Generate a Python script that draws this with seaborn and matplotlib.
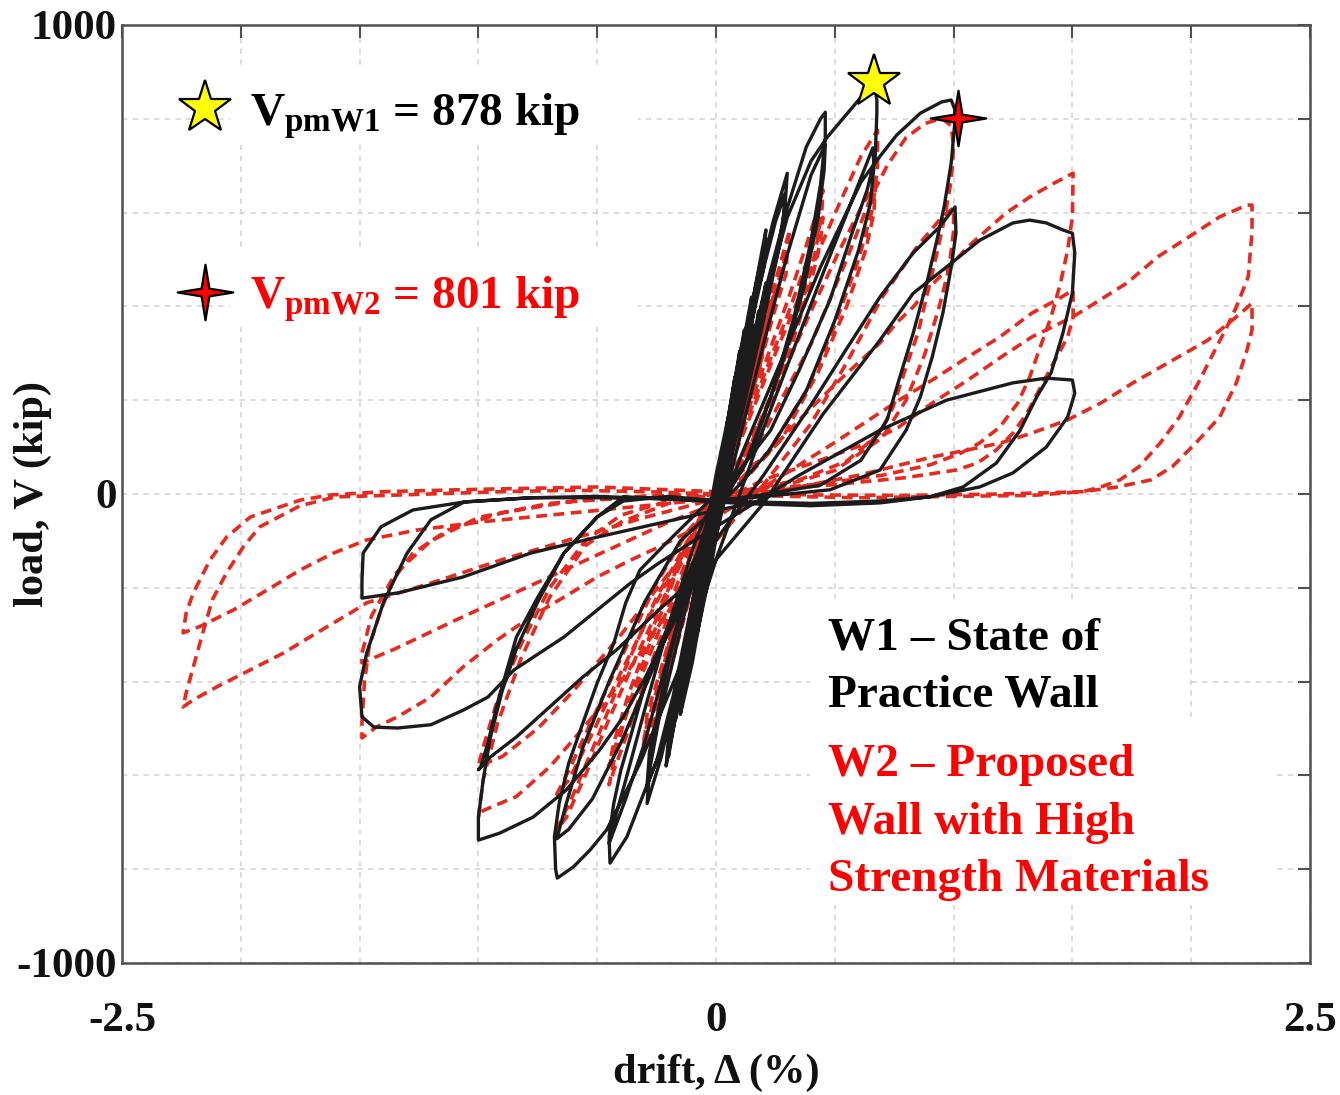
import numpy as np
import pandas as pd
import seaborn as sns
import matplotlib.pyplot as plt
from matplotlib.path import Path
from matplotlib.patches import Rectangle

# ---------------------------------------------------------------------------
# Load–drift hysteresis data, one list of (drift %, load kip) per cycle group
# ---------------------------------------------------------------------------

# W1 - state of practice wall
w1_elastic = [
    (0.00, 0), (0.03, 95), (0.05, 160), (0.045, 130), (0.00, 10), (-0.03, -95), (-0.05, -170), (-0.045, -135), (0.00, -15),
    (0.02, 60), (0.06, 190), (0.08, 250), (0.07, 215), (0.01, 30), (-0.04, -120), (-0.08, -260), (-0.07, -225), (-0.01, -40),
    (0.05, 150), (0.10, 300), (0.085, 245), (0.02, 50), (-0.05, -160), (-0.10, -320), (-0.085, -255), (-0.02, -50),
    (0.04, 110), (0.09, 270), (0.12, 350), (0.11, 310), (0.04, 100), (-0.03, -110), (-0.09, -290), (-0.12, -370), (-0.11, -330), (-0.04, -120),
    (0.06, 100), (0.12, 260), (0.16, 360), (0.15, 320), (0.08, 140), (0.02, -20), (-0.05, -200), (-0.10, -330), (-0.09, -290), (-0.02, -100),
    (0.05, 155), (0.10, 305), (0.09, 255), (0.02, 45), (-0.05, -165), (-0.10, -325), (-0.09, -260), (-0.02, -45),
    (0.08, 120), (0.14, 280), (0.18, 390), (0.17, 350), (0.10, 170), (0.03, -10), (-0.03, -180), (-0.08, -300), (-0.07, -260), (0.00, -60),
    (0.03, 60), (0.09, 250), (0.13, 360), (0.12, 320), (0.05, 120), (-0.02, -90), (-0.08, -270), (-0.13, -390), (-0.12, -350), (-0.05, -150),
    (-0.02, -30), (0.05, 150), (0.11, 320), (0.10, 280), (0.00, 40), (-0.07, -160), (-0.13, -330), (-0.12, -290), (-0.05, -100),
    (0.07, 200), (0.15, 410), (0.14, 360), (0.06, 140), (0.00, -20), (-0.07, -210), (-0.15, -440), (-0.14, -390), (-0.06, -160), (0.00, 20),
    (0.02, 30), (0.08, 220), (0.14, 380), (0.13, 340), (0.06, 150), (-0.01, -60), (-0.07, -240), (-0.14, -420), (-0.13, -380), (-0.06, -170),
    (0.09, 160), (0.16, 330), (0.21, 450), (0.20, 410), (0.12, 220), (0.04, 20), (-0.04, -190), (-0.10, -360), (-0.15, -470), (-0.14, -430), (-0.07, -240),
    (0.07, 200), (0.15, 420), (0.14, 365), (0.05, 120), (-0.05, -150), (-0.15, -450), (-0.14, -395), (-0.05, -140), (0.00, 10),
    (0.01, 10), (0.10, 260), (0.17, 450), (0.16, 400), (0.08, 190), (0.00, -30), (-0.08, -250), (-0.17, -480), (-0.16, -430), (-0.08, -210),
    (0.00, -20), (0.10, 240), (0.18, 470), (0.17, 420), (0.09, 200), (0.01, -10), (-0.09, -270), (-0.18, -500), (-0.17, -450), (-0.07, -180),
    (0.08, 220), (0.15, 400), (0.21, 563), (0.20, 500), (0.12, 310), (0.03, 60), (-0.05, -140), (-0.12, -330), (-0.20, -560), (-0.19, -500), (-0.10, -260), (-0.02, -40),
    (0.08, 210), (0.15, 390), (0.21, 545), (0.20, 480), (0.10, 250), (0.00, -10), (-0.10, -280), (-0.20, -550), (-0.19, -490), (-0.10, -250), (0.00, 0),
    (0.06, 170), (0.13, 350), (0.19, 500), (0.18, 450), (0.11, 280), (0.02, 30), (-0.07, -200), (-0.14, -390), (-0.21, -580), (-0.20, -520), (-0.12, -300), (-0.03, -60),
]
w1_cycles_030 = [
    (0.06, 150), (0.15, 390), (0.24, 580), (0.30, 684), (0.29, 610), (0.26, 520), (0.18, 340), (0.10, 170), (0.03, 20),
    (-0.05, -120), (-0.15, -380), (-0.23, -560), (-0.29, -660), (-0.28, -590), (-0.24, -480), (-0.15, -290), (-0.06, -110), (0.00, 0),
    (0.08, 180), (0.17, 420), (0.25, 580), (0.29, 640), (0.28, 560), (0.20, 370), (0.10, 150), (0.02, 0),
    (-0.08, -180), (-0.18, -430), (-0.25, -570), (-0.29, -620), (-0.28, -550), (-0.20, -360), (-0.10, -160), (0.00, 0),
]
w1_cycles_046 = [
    (0.10, 200), (0.20, 420), (0.30, 610), (0.38, 740), (0.44, 800), (0.46, 814), (0.46, 760), (0.44, 660), (0.40, 540), (0.33, 380), (0.24, 220), (0.12, 60), (0.00, -40),
    (-0.10, -150), (-0.20, -280), (-0.28, -375), (-0.32, -446), (-0.36, -518), (-0.40, -588), (-0.43, -659), (-0.45, -731), (-0.446, -787),
    (-0.375, -731), (-0.32, -659), (-0.265, -588), (-0.21, -518), (-0.15, -420), (-0.08, -260), (0.00, -90),
    (0.10, 120), (0.20, 320), (0.30, 510), (0.40, 680), (0.46, 745), (0.455, 690), (0.43, 590), (0.37, 440), (0.28, 280), (0.15, 90), (0.00, -40),
    (-0.12, -200), (-0.22, -380), (-0.30, -530), (-0.38, -650), (-0.45, -745), (-0.43, -700), (-0.38, -610), (-0.30, -460), (-0.20, -280), (-0.08, -90), (0.00, 0),
]
w1_cycles_067 = [
    (0.10, 180), (0.20, 400), (0.30, 590), (0.40, 710), (0.467, 760), (0.55, 810), (0.62, 852), (0.665, 878), (0.677, 840),
    (0.677, 812), (0.67, 718), (0.636, 648), (0.577, 563), (0.48, 414), (0.35, 264), (0.23, 136), (0.10, 51), (0.00, 0),
    (-0.12, -60), (-0.22, -110), (-0.32, -162), (-0.38, -232), (-0.43, -318), (-0.50, -403), (-0.56, -488), (-0.62, -574), (-0.66, -659), (-0.68, -731), (-0.675, -800), (-0.668, -819),
    (-0.60, -795), (-0.53, -759), (-0.46, -716), (-0.39, -646), (-0.32, -574), (-0.25, -488), (-0.18, -403), (-0.11, -318), (-0.05, -220), (0.00, -140),
    (0.10, 0), (0.20, 140), (0.32, 300), (0.45, 470), (0.56, 610), (0.63, 700), (0.66, 738), (0.665, 700), (0.65, 620), (0.60, 520), (0.50, 370), (0.38, 220), (0.22, 90), (0.10, 20), (0.00, -30),
    (-0.15, -100), (-0.30, -230), (-0.45, -400), (-0.56, -540), (-0.63, -660), (-0.67, -735), (-0.62, -715), (-0.52, -650), (-0.40, -530), (-0.28, -390), (-0.15, -230), (0.00, -60),
]
w1_cycles_100 = [
    (0.11, 87), (0.27, 279), (0.44, 484), (0.61, 665), (0.69, 720), (0.76, 765), (0.86, 812), (0.95, 836), (0.99, 840), (1.005, 820),
    (1.006, 797), (0.99, 706), (0.96, 612), (0.93, 542), (0.89, 456), (0.83, 343), (0.77, 243), (0.72, 158), (0.61, 72), (0.44, 19), (0.19, -2), (0.00, -15),
    (-0.20, -5), (-0.39, -15), (-0.50, -49), (-0.64, -126), (-0.75, -230), (-0.84, -330), (-0.90, -420), (-0.95, -520), (-0.98, -610), (-1.00, -690), (-1.00, -738),
    (-0.91, -723), (-0.77, -689), (-0.63, -631), (-0.49, -546), (-0.39, -475), (-0.28, -375), (-0.15, -247), (0.00, -98),
    (0.20, 40), (0.40, 190), (0.55, 310), (0.69, 420), (0.83, 514), (0.94, 569), (1.006, 612),
    (1.01, 556), (0.99, 484), (0.955, 386), (0.91, 292), (0.86, 207), (0.80, 136), (0.69, 51), (0.48, 9), (0.19, -6), (0.00, -13),
    (-0.20, -10), (-0.39, -6), (-0.50, -49), (-0.64, -126), (-0.75, -220), (-0.84, -305), (-0.88, -375), (-0.92, -446), (-0.96, -531), (-0.99, -582), (-1.00, -588),
    (-0.95, -561), (-0.84, -518), (-0.70, -454), (-0.56, -390), (-0.42, -333), (-0.24, -247), (0.00, -140),
]
w1_cycles_150 = [
    (0.20, -20), (0.45, 170), (0.69, 328), (0.83, 428), (0.97, 484), (1.11, 541), (1.25, 578), (1.32, 584), (1.39, 578), (1.46, 563), (1.50, 556),
    (1.51, 514), (1.50, 429), (1.46, 343), (1.41, 258), (1.35, 207), (1.28, 136), (1.18, 66), (1.04, 15), (0.90, -6), (0.69, -19), (0.40, -25), (0.10, -20),
    (-0.20, -10), (-0.50, -8), (-0.78, -8), (-1.06, -17), (-1.20, -55), (-1.30, -126), (-1.40, -232), (-1.47, -339), (-1.50, -411), (-1.49, -475), (-1.44, -497),
    (-1.34, -499), (-1.20, -492), (-1.06, -460), (-0.96, -433), (-0.85, -375), (-0.64, -305), (-0.36, -190), (-0.24, -147), (0.00, -70),
    (0.35, 40), (0.69, 136), (0.97, 200), (1.25, 237), (1.39, 247), (1.50, 243),
    (1.51, 215), (1.48, 164), (1.39, 100), (1.25, 45), (1.11, 15), (0.90, -6), (0.69, -15), (0.40, -20), (0.00, -15),
    (-0.50, -5), (-0.78, -8), (-1.06, -17), (-1.275, -34), (-1.41, -70), (-1.485, -126), (-1.49, -183), (-1.49, -222),
    (-1.34, -211), (-1.065, -177), (-0.78, -126), (-0.50, -92), (-0.236, -62), (0.00, -35), (0.20, -15),
]

# W2 - proposed wall with high strength materials
w2_elastic = [
    (0.00, 0), (0.05, 90), (0.10, 170), (0.09, 140), (0.00, 0), (-0.05, -90), (-0.10, -180), (-0.09, -150), (0.00, -5),
    (0.10, 160), (0.20, 330), (0.19, 290), (0.05, 60), (-0.10, -170), (-0.20, -340), (-0.19, -300), (-0.05, -70),
    (0.08, 120), (0.16, 270), (0.15, 235), (0.04, 40), (-0.08, -140), (-0.16, -280), (-0.15, -245), (-0.03, -40),
    (0.10, 150), (0.20, 320), (0.19, 280), (0.05, 55), (-0.10, -160), (-0.20, -330), (-0.19, -290), (0.00, -10),
    (0.12, 200), (0.24, 420), (0.23, 380), (0.10, 150), (-0.02, -50), (-0.12, -230), (-0.24, -440), (-0.23, -400), (-0.08, -120),
    (0.10, 170), (0.20, 360), (0.27, 490), (0.31, 563), (0.30, 520), (0.25, 420), (0.15, 220), (0.05, 40),
    (-0.10, -200), (-0.20, -390), (-0.27, -500), (-0.31, -560), (-0.30, -510), (-0.24, -400), (-0.12, -180), (0.00, 0),
    (0.10, 160), (0.20, 340), (0.30, 520), (0.295, 470), (0.24, 380), (0.14, 190), (0.04, 30),
    (-0.10, -190), (-0.20, -370), (-0.30, -520), (-0.29, -470), (-0.23, -370), (-0.11, -160), (0.00, 0),
]
w2_cycles_046 = [
    (0.10, 130), (0.20, 270), (0.30, 410), (0.38, 530), (0.43, 610), (0.45, 648), (0.445, 600), (0.42, 520), (0.36, 400), (0.27, 260), (0.15, 110), (0.05, 20), (0.00, -10),
    (-0.10, -120), (-0.20, -260), (-0.30, -400), (-0.38, -520), (-0.43, -590), (-0.45, -620), (-0.43, -570), (-0.38, -470), (-0.28, -320), (-0.16, -160), (-0.05, -40), (0.00, 0),
    (0.10, 120), (0.20, 250), (0.30, 380), (0.40, 520), (0.45, 590), (0.44, 540), (0.40, 450), (0.32, 320), (0.20, 160), (0.08, 40), (0.00, -5),
    (-0.10, -110), (-0.20, -240), (-0.30, -370), (-0.40, -500), (-0.45, -580), (-0.43, -530), (-0.37, -430), (-0.27, -290), (-0.15, -140), (-0.05, -30), (0.00, 0),
]
w2_cycles_067 = [
    (0.10, 110), (0.25, 300), (0.40, 480), (0.52, 620), (0.61, 720), (0.68, 776), (0.68, 700), (0.66, 610), (0.60, 500), (0.50, 360), (0.38, 220), (0.22, 90), (0.10, 30), (0.00, -10),
    (-0.12, -100), (-0.25, -220), (-0.38, -370), (-0.50, -520), (-0.60, -640), (-0.67, -716), (-0.63, -690), (-0.55, -600), (-0.45, -480), (-0.33, -340), (-0.20, -200), (-0.08, -80), (0.00, 0),
    (0.12, 90), (0.25, 220), (0.40, 390), (0.52, 520), (0.62, 620), (0.67, 660), (0.665, 600), (0.63, 520), (0.55, 400), (0.43, 260), (0.28, 120), (0.12, 30), (0.00, -10),
    (-0.12, -80), (-0.25, -190), (-0.40, -350), (-0.52, -480), (-0.62, -590), (-0.67, -640), (-0.62, -610), (-0.52, -510), (-0.40, -380), (-0.25, -230), (-0.10, -90), (0.00, -20),
]
w2_cycles_100 = [
    (0.20, 130), (0.40, 320), (0.55, 500), (0.65, 630), (0.72, 700), (0.80, 760), (0.88, 790), (0.95, 801), (0.99, 785), (1.00, 740),
    (0.99, 669), (0.96, 584), (0.93, 514), (0.89, 429), (0.85, 343), (0.80, 271), (0.745, 185), (0.69, 130), (0.55, 70), (0.35, 30), (0.15, 10), (0.00, 0),
    (-0.20, -20), (-0.40, -60), (-0.55, -110), (-0.70, -220), (-0.82, -350), (-0.92, -490), (-0.98, -610), (-1.00, -690),
    (-0.98, -675), (-0.84, -645), (-0.70, -582), (-0.56, -500), (-0.40, -400), (-0.20, -250), (0.00, -100),
    (0.20, 20), (0.40, 150), (0.55, 280), (0.70, 420), (0.85, 530), (0.95, 590), (1.00, 610),
    (1.00, 560), (0.98, 480), (0.94, 400), (0.88, 300), (0.80, 200), (0.70, 120), (0.50, 50), (0.30, 20), (0.00, 0),
    (-0.20, -15), (-0.40, -45), (-0.55, -100), (-0.70, -200), (-0.82, -320), (-0.92, -440), (-0.98, -540), (-1.00, -580),
    (-0.90, -560), (-0.75, -500), (-0.60, -420), (-0.40, -300), (-0.20, -170), (0.00, -60),
]
w2_cycles_150 = [
    (0.00, 19), (0.19, 72), (0.35, 158), (0.52, 243), (0.69, 322), (0.76, 365), (0.83, 399), (0.90, 441), (0.97, 478), (1.06, 527), (1.14, 563), (1.22, 599), (1.32, 633), (1.42, 662), (1.503, 684),
    (1.50, 591), (1.48, 520), (1.45, 450), (1.41, 377), (1.36, 307), (1.32, 249), (1.27, 194), (1.195, 143), (1.11, 109), (1.03, 87), (0.90, 62), (0.70, 40), (0.45, 22), (0.20, 10), (0.00, 0),
    (-0.30, -5), (-0.60, -15), (-0.90, -40), (-1.13, -77), (-1.275, -126), (-1.36, -183), (-1.41, -247), (-1.46, -326), (-1.48, -403), (-1.49, -488), (-1.49, -520),
    (-1.43, -497), (-1.34, -475), (-1.20, -433), (-1.065, -369), (-0.92, -311), (-0.78, -262), (-0.64, -220), (-0.50, -177), (-0.36, -141), (-0.24, -113), (0.00, -50),
    (0.25, 30), (0.50, 110), (0.77, 200), (0.91, 243), (1.06, 292), (1.195, 335), (1.33, 386), (1.435, 414), (1.503, 435),
    (1.503, 377), (1.48, 335), (1.42, 279), (1.36, 222), (1.31, 173), (1.25, 130), (1.18, 94), (1.10, 66), (1.01, 51), (0.80, 35), (0.50, 20), (0.20, 8), (0.00, 0),
    (-0.30, -5), (-0.70, -20), (-1.00, -50), (-1.20, -100), (-1.35, -170), (-1.45, -260), (-1.49, -340), (-1.49, -360),
    (-1.35, -330), (-1.10, -270), (-0.80, -200), (-0.50, -130), (-0.20, -60), (0.00, -20),
]
w2_cycles_225 = [
    (0.20, 30), (0.40, 65), (0.64, 109), (0.77, 143), (0.91, 194), (1.06, 243), (1.20, 292), (1.33, 335), (1.50, 377), (1.57, 399), (1.73, 450), (1.86, 506), (1.99, 548), (2.12, 591), (2.235, 616), (2.256, 616),
    (2.256, 560), (2.24, 463), (2.19, 399), (2.15, 356), (2.10, 307), (2.03, 237), (1.95, 164), (1.87, 109), (1.78, 58), (1.70, 30), (1.62, 15), (1.545, 5), (1.33, -3), (1.00, -5), (0.60, -8), (0.30, -5), (0.00, 0),
    (-0.30, 5), (-0.60, 8), (-0.90, 5), (-1.20, 0), (-1.45, -4), (-1.60, -6), (-1.75, -25), (-1.92, -70), (-1.99, -113), (-2.06, -168), (-2.12, -226), (-2.16, -296), (-2.20, -369), (-2.23, -424), (-2.243, -454),
    (-2.20, -439), (-2.10, -411), (-1.96, -375), (-1.82, -339), (-1.68, -296), (-1.54, -254), (-1.47, -232), (-1.20, -190), (-0.90, -140), (-0.60, -95), (-0.30, -50), (0.00, -10),
    (0.30, 10), (0.60, 40), (0.91, 79), (1.06, 94), (1.20, 109), (1.33, 130), (1.48, 158), (1.62, 194), (1.755, 237), (1.90, 279), (2.07, 328), (2.21, 386), (2.256, 407),
    (2.256, 350), (2.235, 307), (2.19, 237), (2.12, 164), (2.02, 109), (1.92, 58), (1.83, 30), (1.69, 15), (1.545, 5), (1.20, 0), (0.80, -3), (0.40, -2), (0.00, 5),
    (-0.50, 15), (-1.00, 10), (-1.40, 5), (-1.62, -2), (-1.75, -13), (-1.96, -49), (-2.06, -92), (-2.13, -141), (-2.20, -211), (-2.23, -254), (-2.243, -296),
    (-2.17, -282), (-2.03, -247), (-1.89, -205), (-1.75, -162), (-1.61, -126), (-1.47, -98), (-1.26, -77), (-1.00, -60), (-0.60, -40), (-0.30, -25), (0.00, -10),
]

w1_groups = [w1_elastic, w1_cycles_030, w1_cycles_046, w1_cycles_067, w1_cycles_100, w1_cycles_150]
w2_groups = [w2_elastic, w2_cycles_046, w2_cycles_067, w2_cycles_100, w2_cycles_150, w2_cycles_225]

# peak strengths (kip) and the drift at which each occurs
peak_w1 = (0.665, 878)
peak_w2 = (1.02, 801)

x_ticks = [-2.5, -2.0, -1.5, -1.0, -0.5, 0.0, 0.5, 1.0, 1.5, 2.0, 2.5]
x_ticklabels = ["-2.5", "", "", "", "", "0", "", "", "", "", "2.5"]
y_ticks = [-1000, -800, -600, -400, -200, 0, 200, 400, 600, 800, 1000]
y_ticklabels = ["-1000", "", "", "", "", "0", "", "", "", "", "1000"]


def to_frame(groups):
    pts = [p for g in groups for p in g]
    return pd.DataFrame(pts, columns=["drift", "load"])


w1 = to_frame(w1_groups)
w2 = to_frame(w2_groups)

# ---------------------------------------------------------------------------
sns.set_theme(style="white")
plt.rcParams["font.family"] = ["Liberation Serif", "DejaVu Serif"]
plt.rcParams["font.weight"] = "bold"
plt.rcParams["mathtext.fontset"] = "custom"
plt.rcParams["mathtext.rm"] = "Liberation Serif:bold"
plt.rcParams["mathtext.bf"] = "Liberation Serif:bold"
plt.rcParams["mathtext.it"] = "Liberation Serif:bold"

fig = plt.figure(figsize=(13.4, 10.95), dpi=100)
ax = fig.add_axes([0.09104, 0.12055, 0.88657, 0.85662])

BLACK = "#1c1c1c"
RED = "#e52b1f"
AXC = "#505050"

# grid first, curves on top
ax.set_axisbelow(True)
ax.grid(True, color="#d2d2d2", linestyle=(0, (3.5, 3.5)), linewidth=1.1)

sns.lineplot(data=w2, x="drift", y="load", sort=False, estimator=None,
             color=RED, linewidth=2.6, ax=ax, zorder=3)
ax.lines[-1].set_linestyle((0, (3.0, 1.8)))
sns.lineplot(data=w1, x="drift", y="load", sort=False, estimator=None,
             color=BLACK, linewidth=2.4, ax=ax, zorder=4)

# peak markers
five_star = "*"
four_star = Path([(0, 1), (0.14, 0.14), (1, 0), (0.14, -0.14), (0, -1),
                  (-0.14, -0.14), (-1, 0), (-0.14, 0.14), (0, 1)],
                 [Path.MOVETO] + [Path.LINETO] * 7 + [Path.CLOSEPOLY])
ax.plot(*peak_w1, marker=five_star, ms=40, mfc="#ffff00", mec="black", mew=1.6, zorder=6)
ax.plot(*peak_w2, marker=four_star, ms=40, mfc="#ff0000", mec="black", mew=1.6, zorder=6)

ax.set_xlim(-2.5, 2.5)
ax.set_ylim(-1000, 1000)
ax.set_xticks(x_ticks)
ax.set_xticklabels(x_ticklabels)
ax.set_yticks(y_ticks)
ax.set_yticklabels(y_ticklabels)
ax.tick_params(direction="in", length=9, width=1.5, color=AXC,
               top=True, right=True, labelsize=31, labelcolor="#111111")
ax.tick_params(axis="x", pad=28)
ax.tick_params(axis="y", pad=4)
for t in ax.get_xticklabels() + ax.get_yticklabels():
    t.set_fontweight("bold")
for s in ax.spines.values():
    s.set_color(AXC)
    s.set_linewidth(1.8)

ax.set_xlabel("drift, Δ (%)", fontsize=30.5, fontweight="bold", color="#111111")
ax.set_ylabel("load, V (kip)", fontsize=30.5, fontweight="bold", color="#111111")
ax.xaxis.set_label_coords(0.5, -0.117)
ax.xaxis.label.set_va("center")
ax.yaxis.set_label_coords(-0.075, 0.5)
ax.yaxis.label.set_va("center")

# annotation panels (white boxes hide the grid behind the text)
for (x0, y0, w, h) in [(0.091, 0.874, 0.343, 0.078), (0.091, 0.678, 0.343, 0.080),
                       (0.579, 0.262, 0.32, 0.126), (0.579, 0.062, 0.39, 0.198)]:
    ax.add_patch(Rectangle((x0, y0), w, h, transform=ax.transAxes,
                           facecolor="white", edgecolor="none", zorder=5))

ax.plot(0.0699, 0.9115, transform=ax.transAxes, marker=five_star, ms=40,
        mfc="#ffff00", mec="black", mew=1.6, zorder=6, clip_on=False)
ax.plot(0.0699, 0.7154, transform=ax.transAxes, marker=four_star, ms=40,
        mfc="#ff0000", mec="black", mew=1.6, zorder=6, clip_on=False)
ax.text(0.108, 0.893, r"$\mathbf{V}_{\mathbf{pmW1}}$ = %d kip" % peak_w1[1],
        transform=ax.transAxes, fontsize=34, fontweight="bold", color="black",
        va="baseline", ha="left", zorder=7)
ax.text(0.108, 0.698, r"$\mathbf{V}_{\mathbf{pmW2}}$ = %d kip" % peak_w2[1],
        transform=ax.transAxes, fontsize=34, fontweight="bold", color="#ff0000",
        va="baseline", ha="left", zorder=7)

legend_lines = [
    ("W1 – State of", "black", 0.334),
    ("Practice Wall", "black", 0.273),
    ("W2 – Proposed", "#ff0000", 0.199),
    ("Wall with High", "#ff0000", 0.1375),
    ("Strength Materials", "#ff0000", 0.077),
]
for txt, col, yb in legend_lines:
    ax.text(0.594, yb, txt, transform=ax.transAxes, fontsize=34,
            fontweight="bold", color=col, va="baseline", ha="left", zorder=7)

fig.savefig("out.png", dpi=100, facecolor="white")
